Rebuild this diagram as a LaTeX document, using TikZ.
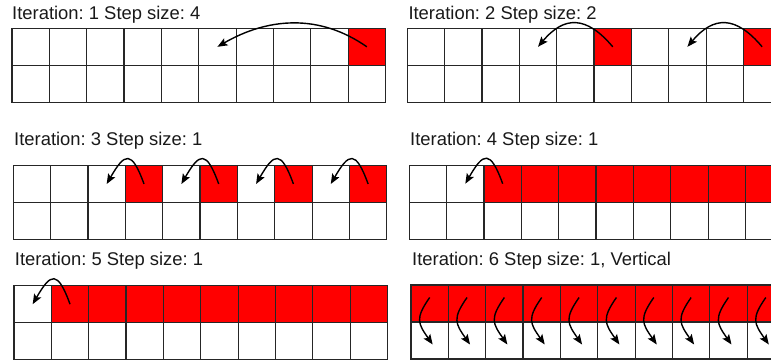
\documentclass[tikz,border=0pt]{standalone}
\usepackage{fontspec}
\setsansfont{Liberation Sans}
\usetikzlibrary{arrows.meta,positioning}
\frenchspacing

\def\cw{37.35}
\def\ch{37}

% one panel of 2 x 10 cells, #1 name, (#2,#3) top left corner
\newcommand{\gridpanel}[3]{%
  \foreach \c in {0,...,9}{
    \node[cell] (#1-0-\c) at ({#2+(\c+0.5)*\cw}, {#3-0.5*\ch}) {};
    \node[cell] (#1-1-\c) at ({#2+(\c+0.5)*\cw}, {#3-1.5*\ch}) {};
  }}

\begin{document}
\begin{tikzpicture}[x=1pt, y=1pt,
    cell/.style={draw=black!85, line width=1.2pt, fill=white, minimum width=\cw pt, minimum height=\ch pt, inner sep=0pt, outer sep=0pt},
    on/.style={cell, fill=red},
    ttl/.style={font=\fontsize{18.4}{22}\selectfont\sffamily, text=black!90, anchor=base west, inner sep=0pt},
    jump/.style={-{Stealth[length=10pt, width=8pt, inset=2pt]}, line width=1.4pt, black}
]
\useasboundingbox (0,0) rectangle (771,-361);
\clip (0,0) rectangle (771,-361);

% titles
\node[ttl] (t1) at (12, -20) {Iteration: 1 Step size: 4};
\node[ttl] (t2) at (408.3, -20) {Iteration: 2 Step size: 2};
\node[ttl] (t3) at (14, -145) {Iteration: 3 Step size: 1};
\node[ttl] (t4) at (410, -145) {Iteration: 4 Step size: 1};
\node[ttl] (t5) at (14.7, -265.7) {Iteration: 5 Step size: 1};
\node[ttl] (t6) at (412, -265) {Iteration: 6 Step size: 1, Vertical};

% grids
\gridpanel{p1}{12}{-28.3}
\gridpanel{p2}{407.3}{-28.3}
\gridpanel{p3}{13.3}{-165.5}
\gridpanel{p4}{409.3}{-165.2}
\gridpanel{p5}{14}{-285.7}
\gridpanel{p6}{411}{-285}

% filled cells
\foreach \c in {9} \node[on] (p1-0-\c) at (p1-0-\c) {};
\foreach \c in {5,9} \node[on] (p2-0-\c) at (p2-0-\c) {};
\foreach \c in {3,5,7,9} \node[on] (p3-0-\c) at (p3-0-\c) {};
\foreach \c in {2,...,9} \node[on] (p4-0-\c) at (p4-0-\c) {};
\foreach \c in {1,...,9} \node[on] (p5-0-\c) at (p5-0-\c) {};
\foreach \c in {0,...,9} \node[on] (p6-0-\c) at (p6-0-\c) {};

% moves
\draw[jump] (p1-0-9.center) to[out=145, in=30] (p1-0-5.center);
\foreach \c/\d in {5/3, 9/7}
  \draw[jump] (p2-0-\c.center) to[out=130, in=50, looseness=1.4] (p2-0-\d.center);
\foreach \c/\d in {3/2, 5/4, 7/6, 9/8}
  \draw[jump] (p3-0-\c.center) to[out=110, in=60, looseness=2.5] (p3-0-\d.center);
\draw[jump] (p4-0-2.center) to[out=110, in=60, looseness=2.5] (p4-0-1.center);
\draw[jump] (p5-0-1.center) to[out=110, in=60, looseness=2.5] (p5-0-0.center);
\foreach \c in {0,...,9}
  \draw[jump] ([yshift=6pt]p6-0-\c.center) to[out=235, in=125, looseness=1.4] ([xshift=3pt, yshift=-4pt]p6-1-\c.center);

\end{tikzpicture}
\end{document}
